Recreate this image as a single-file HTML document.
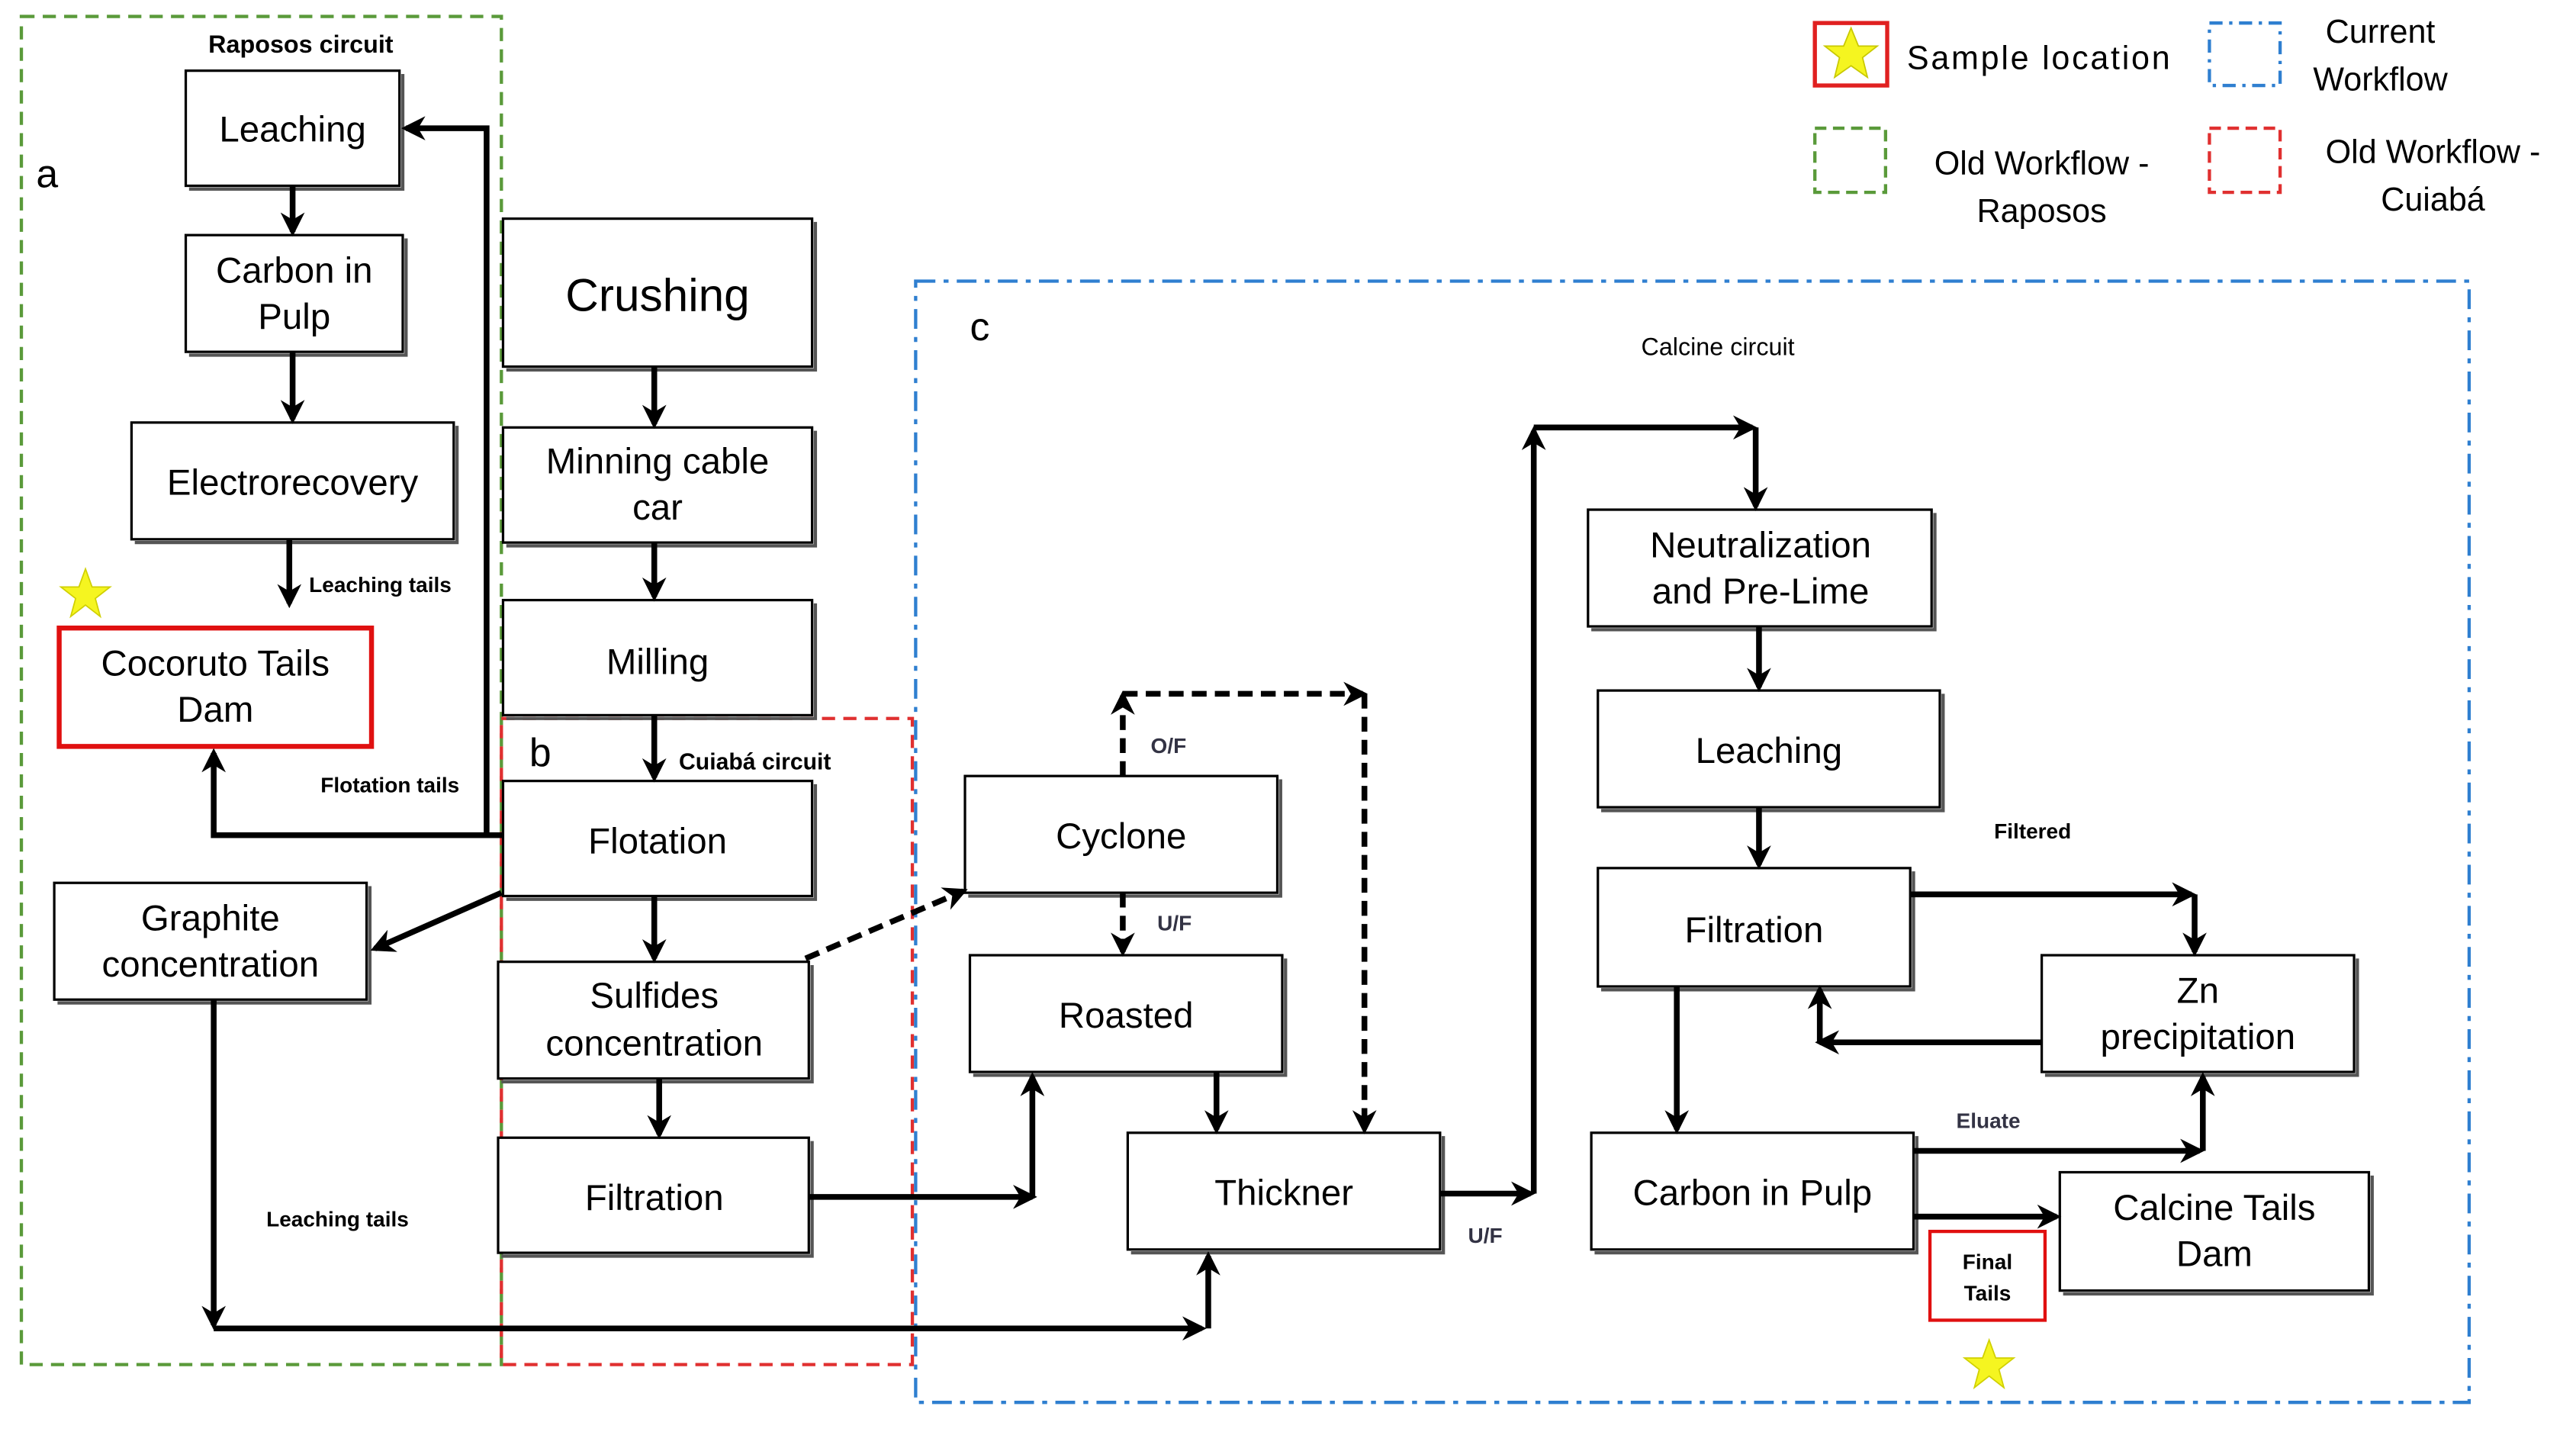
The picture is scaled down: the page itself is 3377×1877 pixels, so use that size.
<!DOCTYPE html>
<html><head><meta charset="utf-8"><style>
html,body{margin:0;padding:0;background:#fff}
svg{display:block}
text{font-family:"Liberation Sans",sans-serif}
.bt{font-size:22px;text-anchor:middle;fill:#000}
.sl{font-size:13px;font-weight:bold;fill:#000}
.lg{font-size:20px;fill:#000}
</style></head><body>
<svg width="3377" height="1877" viewBox="0 0 1567 871" preserveAspectRatio="none" xmlns="http://www.w3.org/2000/svg">
<defs>
<marker id="ah" viewBox="0 0 10 10" refX="8" refY="5" markerWidth="4.2" markerHeight="4.2" orient="auto" markerUnits="strokeWidth">
<path d="M0,0 L10,5 L0,10 L3,5 z" fill="#000"/></marker>
</defs>
<rect x="13" y="10" width="292" height="820" fill="none" stroke="#5a9a3a" stroke-width="2" stroke-dasharray="8,5"/>
<rect x="305" y="437" width="250" height="393" fill="none" stroke="#e03030" stroke-width="2" stroke-dasharray="8,5"/>
<rect x="557" y="171" width="945" height="682" fill="none" stroke="#2f7fd0" stroke-width="2" stroke-dasharray="12,5,3,5"/>
<text x="22" y="114" font-size="24">a</text>
<text x="322" y="466" font-size="24">b</text>
<text x="590" y="207" font-size="24">c</text>
<text x="183" y="32" text-anchor="middle" class="sl" style="font-size:15px">Raposos circuit</text>
<text x="1045" y="216" text-anchor="middle" font-size="15">Calcine circuit</text>
<rect x="1104" y="14" width="44" height="38" fill="none" stroke="#e02020" stroke-width="2.5"/>
<polygon points="1126,17 1130.5,28 1142,28 1133,35 1136,47 1126,40 1116,47 1119,35 1110,28 1121.5,28" fill="#f5f520" stroke="#c8c800" stroke-width="0.8"/>
<text x="1160" y="42" class="lg" textLength="160">Sample location</text>
<rect x="1344" y="14" width="43" height="38" fill="none" stroke="#2f7fd0" stroke-width="2" stroke-dasharray="8,4,2,4"/>
<text x="1448" y="26" class="lg" text-anchor="middle">Current</text>
<text x="1448" y="55" class="lg" text-anchor="middle">Workflow</text>
<rect x="1104" y="78" width="43" height="39" fill="none" stroke="#5a9a3a" stroke-width="2" stroke-dasharray="7,4"/>
<text x="1242" y="106" class="lg" text-anchor="middle">Old Workflow -</text>
<text x="1242" y="135" class="lg" text-anchor="middle">Raposos</text>
<rect x="1344" y="78" width="43" height="39" fill="none" stroke="#e03030" stroke-width="2" stroke-dasharray="7,4"/>
<text x="1480" y="99" class="lg" text-anchor="middle">Old Workflow -</text>
<text x="1480" y="128" class="lg" text-anchor="middle">Cuiabá</text>
<g fill="#fff" stroke="#000" stroke-width="1.5">
<rect x="113" y="43" width="130" height="70"/>
<rect x="113" y="143" width="132" height="71"/>
<rect x="80" y="257" width="196" height="71"/>
<rect x="33" y="537" width="190" height="71"/>
<rect x="306" y="133" width="188" height="90"/>
<rect x="306" y="260" width="188" height="70"/>
<rect x="306" y="365" width="188" height="70"/>
<rect x="306" y="475" width="188" height="70"/>
<rect x="303" y="585" width="189" height="71"/>
<rect x="303" y="692" width="189" height="70"/>
<rect x="587" y="472" width="190" height="71"/>
<rect x="590" y="581" width="190" height="71"/>
<rect x="686" y="689" width="190" height="71"/>
<rect x="966" y="310" width="209" height="71"/>
<rect x="972" y="420" width="208" height="71"/>
<rect x="972" y="528" width="190" height="72"/>
<rect x="1242" y="581" width="190" height="71"/>
<rect x="968" y="689" width="196" height="71"/>
<rect x="1253" y="713" width="188" height="72"/>
</g>
<g fill="none" stroke="#555" stroke-width="2">
<path d="M245,45V115H115"/><path d="M247,145V216H115"/><path d="M278,259V330H82"/><path d="M225,539V610H35"/>
<path d="M496,135V225H308"/><path d="M496,262V332H308"/><path d="M496,367V437H308"/><path d="M496,477V547H308"/>
<path d="M494,587V658H305"/><path d="M494,694V764H305"/><path d="M779,474V545H589"/><path d="M782,583V654H592"/>
<path d="M878,691V762H688"/><path d="M1177,312V383H968"/><path d="M1182,422V493H974"/><path d="M1164,530V602H974"/>
<path d="M1434,583V654H1244"/><path d="M1166,691V762H970"/><path d="M1443,715V787H1255"/>
</g>
<rect x="36" y="382" width="190" height="72" fill="#fff" stroke="#e01010" stroke-width="3"/>
<rect x="1174" y="749" width="70" height="54" fill="#fff" stroke="#e01010" stroke-width="2"/>
<polygon points="52,346 56,357 67,357 58,364 61,375 52,368 43,375 46,364 37,357 48,357" fill="#f5f520" stroke="#d0d000" stroke-width="0.8"/>
<polygon points="1210,815 1214,826 1225,826 1216,833 1219,844 1210,837 1201,844 1204,833 1195,826 1206,826" fill="#f5f520" stroke="#d0d000" stroke-width="0.8"/>
<text class="bt" x="178" y="86">Leaching</text>
<text class="bt" x="179" y="172">Carbon in</text><text class="bt" x="179" y="200">Pulp</text>
<text class="bt" x="178" y="301">Electrorecovery</text>
<text class="bt" x="131" y="411">Cocoruto Tails</text><text class="bt" x="131" y="439">Dam</text>
<text class="bt" x="128" y="566">Graphite</text><text class="bt" x="128" y="594">concentration</text>
<text class="bt" x="400" y="189" style="font-size:28px">Crushing</text>
<text class="bt" x="400" y="288">Minning cable</text><text class="bt" x="400" y="316">car</text>
<text class="bt" x="400" y="410">Milling</text>
<text class="bt" x="400" y="519">Flotation</text>
<text class="bt" x="398" y="613">Sulfides</text><text class="bt" x="398" y="642">concentration</text>
<text class="bt" x="398" y="736">Filtration</text>
<text class="bt" x="682" y="516">Cyclone</text>
<text class="bt" x="685" y="625">Roasted</text>
<text class="bt" x="781" y="733">Thickner</text>
<text class="bt" x="1071" y="339">Neutralization</text><text class="bt" x="1071" y="367">and Pre-Lime</text>
<text class="bt" x="1076" y="464">Leaching</text>
<text class="bt" x="1067" y="573">Filtration</text>
<text class="bt" x="1337" y="610">Zn</text><text class="bt" x="1337" y="638">precipitation</text>
<text class="bt" x="1066" y="733">Carbon in Pulp</text>
<text class="bt" x="1347" y="742">Calcine Tails</text><text class="bt" x="1347" y="770">Dam</text>
<text x="1209" y="772" text-anchor="middle" class="sl">Final</text><text x="1209" y="791" text-anchor="middle" class="sl">Tails</text>
<text x="188" y="360" class="sl">Leaching  tails</text>
<text x="195" y="482" class="sl">Flotation tails</text>
<text x="162" y="746" class="sl">Leaching  tails</text>
<text x="413" y="468" class="sl" style="font-size:14px">Cuiabá circuit</text>
<text x="700" y="458" class="sl" style="fill:#334">O/F</text>
<text x="704" y="566" class="sl" style="fill:#334">U/F</text>
<text x="893" y="756" class="sl" style="fill:#334">U/F</text>
<text x="1213" y="510" class="sl">Filtered</text>
<text x="1190" y="686" class="sl" style="fill:#334">Eluate</text>
<g fill="none" stroke="#000" stroke-width="3.5" marker-end="url(#ah)">
<path d="M178,113V141"/>
<path d="M178,214V255"/>
<path d="M176,328V367"/>
<path d="M306,508H130V458"/>
<path d="M296,508V78H247"/>
<path d="M305,543L228,577"/>
<path d="M130,608V806"/>
<path d="M130,808H731"/>
<path d="M735,808V764"/>
<path d="M398,223V258"/>
<path d="M398,330V363"/>
<path d="M398,435V473"/>
<path d="M398,545V583"/>
<path d="M401,656V690"/>
<path d="M492,728H628"/>
<path d="M628,728V655"/>
<path d="M740,652V687"/>
<path d="M876,726H931"/>
<path d="M933,726V262"/>
<path d="M933,260H1066"/>
<path d="M1068,260V308"/>
<path d="M1070,381V418"/>
<path d="M1070,491V526"/>
<path d="M1162,544H1333"/>
<path d="M1335,544V579"/>
<path d="M1242,634H1107"/>
<path d="M1107,634V602"/>
<path d="M1020,600V687"/>
<path d="M1164,700H1338"/>
<path d="M1340,700V655"/>
<path d="M1164,740H1251"/>
</g>
<g fill="none" stroke="#000" stroke-width="3.5" stroke-dasharray="9,5" marker-end="url(#ah)">
<path d="M490,583L586,542"/>
<path d="M683,472V423"/>
<path d="M683,422H829"/>
<path d="M830,422V687"/>
<path d="M683,543V579"/>
</g>
</svg>
</body></html>
